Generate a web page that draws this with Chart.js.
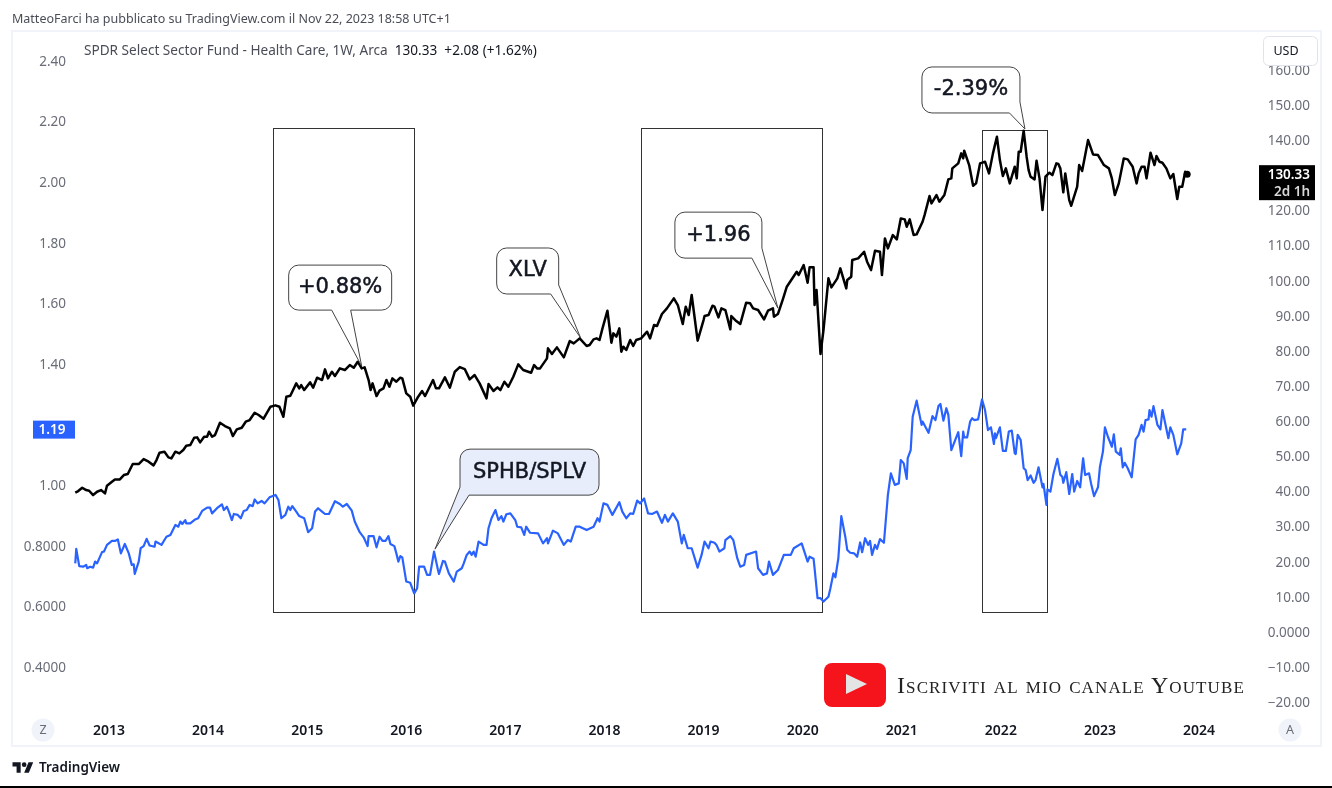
<!DOCTYPE html>
<html>
<head>
<meta charset="utf-8">
<title>XLV vs SPHB/SPLV</title>
<script src="https://cdn.jsdelivr.net/npm/chart.js@4/dist/chart.umd.js"></script>
<style>
  html, body { margin: 0; padding: 0; background: #fff; }
  #page { position: relative; width: 1332px; height: 788px; overflow: hidden; font-family: "Noto Sans", sans-serif; }
  #lineChart { position: absolute; left: 0; top: 0; }
  .txt { position: absolute; white-space: nowrap; }
  #header { left: 12px; top: 10px; font-size: 12.5px; color: #4a4d57; }
  #legend { left: 84px; top: 40px; font-size: 13.6px; color: #4a4d57; }
  #legend b { font-weight: 400; color: #131722; }
  #tvName { left: 39px; top: 758px; font-size: 13.5px; font-weight: 600; color: #131722; }
  #tvLogo { position: absolute; left: 12px; top: 760px; }
  #ytText { left: 897px; top: 672px; font-family: "Liberation Serif", serif; font-size: 24px; font-variant: small-caps; color: #222; letter-spacing: 1.1px; }
  #ytLogo { position: absolute; left: 824px; top: 663px; }
  #bottomLine { position: absolute; left: 0; top: 786px; width: 1332px; height: 2px; background: #000; }
</style>
</head>
<body>
<div id="page">
  <canvas id="lineChart" width="1332" height="788"></canvas>
  <div class="txt" id="header">MatteoFarci ha pubblicato su TradingView.com il Nov 22, 2023 18:58 UTC+1</div>
  <div class="txt" id="legend">SPDR Select Sector Fund - Health Care, 1W, Arca &nbsp;<b>130.33 &nbsp;+2.08 (+1.62%)</b></div>
  <svg id="tvLogo" width="22" height="14" viewBox="0 0 36 24"><path fill="#131722" d="M14 22H7V11H0V4h14v18zM28 22h-8l7.5-18h8L28 22z"/><circle fill="#131722" cx="20" cy="8" r="4"/></svg>
  <div class="txt" id="tvName">TradingView</div>
  <svg id="ytLogo" width="62" height="44" viewBox="0 0 62 44"><rect x="0" y="0" width="62" height="44" rx="8" fill="#f5141c"/><path d="M22 11 L43 21 L22 31 Z" fill="#e4e4e4"/></svg>
  <div class="txt" id="ytText">Iscriviti al mio canale Youtube</div>
  <div id="bottomLine"></div>
</div>
<script>
// XLV weekly close (year as decimal, price on the right axis)
const xlvYears = [2012.66,2012.69,2012.73,2012.77,2012.80,2012.84,2012.88,2012.92,2012.96,2012.98,2013.03,2013.06,2013.11,2013.15,2013.19,2013.24,2013.30,2013.35,2013.40,2013.45,2013.48,2013.51,2013.56,2013.60,2013.63,2013.67,2013.71,2013.75,2013.78,2013.82,2013.86,2013.89,2013.92,2013.96,2013.99,2014.01,2014.04,2014.07,2014.12,2014.17,2014.22,2014.25,2014.29,2014.34,2014.38,2014.42,2014.47,2014.51,2014.56,2014.63,2014.68,2014.72,2014.76,2014.79,2014.83,2014.89,2014.92,2014.94,2014.97,2015.03,2015.06,2015.10,2015.15,2015.18,2015.21,2015.25,2015.28,2015.33,2015.38,2015.43,2015.47,2015.51,2015.55,2015.58,2015.62,2015.64,2015.66,2015.70,2015.73,2015.77,2015.80,2015.83,2015.86,2015.90,2015.94,2015.96,2016.00,2016.04,2016.07,
  2016.12,2016.16,2016.19,2016.27,2016.30,2016.33,2016.39,2016.44,2016.49,2016.54,2016.59,2016.64,2016.69,2016.74,2016.81,2016.83,2016.88,2016.92,2016.95,2016.99,2017.03,2017.08,2017.13,2017.18,2017.26,2017.29,2017.32,2017.35,2017.42,2017.43,2017.47,2017.52,2017.59,2017.65,2017.69,2017.75,2017.82,2017.85,2017.89,2017.92,2017.95,2017.98,2018.03,2018.07,2018.09,2018.12,2018.15,2018.17,2018.19,2018.22,2018.26,2018.29,2018.32,2018.37,2018.43,2018.46,2018.50,2018.53,2018.58,2018.63,2018.70,2018.74,2018.79,2018.82,2018.85,2018.88,2018.94,2019.00,2019.01,2019.05,2019.09,2019.11,2019.15,2019.18,2019.22,2019.27,2019.28,2019.33,2019.37,2019.40,2019.43,2019.47,2019.50,2019.55,2019.61,2019.65,2019.70,2019.71,2019.75,2019.80,2019.84,2019.94,2019.96,2020.01,2020.05,2020.07,2020.11,2020.12,2020.14,2020.18,2020.21,2020.26,2020.29,2020.35,
  2020.38,2020.41,2020.44,2020.45,2020.49,2020.50,2020.56,2020.62,2020.65,2020.69,2020.73,2020.78,2020.80,2020.83,2020.86,2020.91,2020.95,2020.99,2021.03,2021.05,2021.08,2021.12,2021.15,2021.21,2021.23,2021.28,2021.30,2021.35,2021.38,2021.43,2021.47,2021.50,2021.51,2021.57,2021.60,2021.62,2021.63,2021.68,2021.72,2021.75,2021.79,2021.84,2021.88,2021.92,2021.96,2021.99,2022.02,2022.05,2022.09,2022.14,2022.16,2022.18,2022.20,2022.23,2022.26,2022.28,2022.30,2022.34,2022.36,2022.39,2022.42,2022.45,2022.49,2022.52,2022.56,2022.58,2022.60,2022.63,2022.65,2022.69,2022.71,2022.77,2022.79,2022.82,2022.88,2022.93,2022.98,2023.04,2023.09,2023.12,2023.15,2023.19,2023.24,2023.28,2023.33,2023.37,2023.39,2023.42,2023.45,2023.47,2023.51,2023.55,2023.57,2023.60,2023.63,2023.67,2023.71,2023.74,2023.78,2023.80,2023.83,2023.86,2023.88];
const xlvPrices = [39.66,40.13,41.08,40.41,40.22,38.99,39.94,40.41,39.47,41.65,42.79,43.45,43.45,44.69,44.97,47.82,47.82,49.24,48.48,47.44,48.96,51.04,51.33,49.72,49.43,51.33,50.85,51.80,53.04,53.23,55.31,55.41,53.99,55.60,55.60,57.02,55.60,56.07,59.58,58.64,57.97,55.79,57.69,58.16,59.87,60.34,62.43,61.77,60.72,64.14,64.52,64.14,61.29,66.99,67.27,70.78,69.36,70.31,68.89,71.07,69.55,72.40,71.73,74.77,72.21,74.10,72.87,75.05,74.58,76.00,75.24,76.95,75.05,75.34,71.73,68.89,70.78,67.18,68.70,69.36,71.73,69.83,72.21,71.26,72.40,72.21,67.94,66.99,64.43,
  66.99,68.60,67.18,71.73,69.36,69.36,72.49,69.55,74.10,75.43,74.86,71.92,73.16,70.78,66.51,70.59,68.60,69.64,68.88,71.26,69.83,72.68,76.19,74.58,73.82,76.00,75.05,75.05,77.90,80.75,79.13,81.03,78.19,82.83,82.17,83.59,81.41,81.70,83.31,83.59,83.12,86.44,91.47,82.36,85.02,84.07,86.44,79.80,81.22,80.27,83.12,81.41,83.12,83.59,85.49,83.59,87.39,87.11,90.52,92.14,94.98,93.08,87.67,92.61,90.24,95.93,82.93,88.81,89.95,90.24,92.89,92.61,89.57,92.14,91.66,86.16,89.95,88.53,87.67,90.71,93.75,93.56,92.14,91.66,89.00,91.47,92.14,89.76,90.52,94.70,98.30,102.57,101.63,104.47,99.44,103.81,103.81,93.08,97.36,79.13,85.97,100.68,98.11,100.68,
  103.51,100.66,97.81,100.19,101.14,105.88,106.35,108.25,105.41,103.03,108.54,108.25,101.61,112.05,109.20,113.00,111.76,117.74,117.46,115.37,117.46,113.00,113.19,116.79,118.69,124.10,122.01,124.39,122.49,124.39,128.85,129.13,131.98,133.40,136.25,134.82,137.01,132.93,127.04,127.71,133.40,133.88,130.55,136.25,141.00,134.35,129.79,131.98,127.71,132.45,129.13,136.72,136.72,142.70,135.30,131.50,129.60,128.85,134.16,129.13,120.12,129.60,130.74,130.08,133.40,133.21,131.98,125.15,130.55,122.96,121.35,126.76,132.93,131.22,140.04,135.96,135.77,132.93,131.98,129.13,124.39,127.71,134.82,134.54,132.45,127.71,130.55,132.45,132.45,129.13,136.44,132.93,135.49,133.88,133.59,131.98,129.13,130.36,123.25,126.76,126.76,131.03,130.33];

// SPHB/SPLV ratio, left axis
const ratioYears = [2012.66,2012.67,2012.70,2012.74,2012.77,2012.78,2012.81,2012.84,2012.86,2012.88,2012.93,2012.95,2012.98,2013.03,2013.06,2013.09,2013.12,2013.16,2013.20,2013.23,2013.25,2013.26,2013.30,2013.32,2013.35,2013.38,2013.41,2013.46,2013.47,2013.53,2013.58,2013.62,2013.67,2013.70,2013.72,2013.74,2013.77,2013.78,2013.82,2013.87,2013.90,2013.94,2013.99,2014.02,2014.04,2014.09,2014.14,2014.16,2014.19,2014.21,2014.24,2014.26,2014.30,2014.33,2014.36,2014.39,2014.42,2014.45,2014.47,2014.50,2014.54,2014.57,2014.62,2014.68,2014.71,2014.74,2014.78,2014.81,2014.83,2014.85,2014.89,2014.92,2014.97,2015.01,2015.05,2015.08,2015.11,2015.15,2015.18,2015.22,2015.28,2015.33,2015.36,2015.40,2015.45,2015.48,2015.53,2015.57,2015.61,2015.62,2015.67,2015.70,2015.73,2015.76,2015.79,2015.82,2015.84,2015.88,2015.90,2015.92,2015.94,2015.96,2016.00,2016.04,2016.08,2016.11,2016.13,2016.18,2016.21,2016.24,2016.28,2016.32,
  2016.33,2016.37,2016.39,2016.43,2016.48,2016.51,2016.56,2016.58,2016.61,2016.64,2016.66,2016.68,2016.70,2016.73,2016.78,2016.81,2016.83,2016.86,2016.90,2016.93,2016.96,2016.98,2017.01,2017.05,2017.10,2017.12,2017.16,2017.19,2017.21,2017.25,2017.33,2017.38,2017.42,2017.43,2017.48,2017.53,2017.59,2017.63,2017.66,2017.71,2017.75,2017.82,2017.89,2017.93,2017.95,2017.99,2018.03,2018.08,2018.15,2018.18,2018.22,2018.26,2018.29,2018.33,2018.36,2018.40,2018.44,2018.48,2018.53,2018.58,2018.61,2018.64,2018.69,2018.74,2018.78,2018.80,2018.84,2018.88,2018.94,2018.98,2019.01,2019.05,2019.07,2019.11,2019.13,2019.16,2019.21,2019.22,2019.27,2019.30,2019.34,2019.37,2019.41,2019.43,2019.53,2019.55,2019.60,2019.64,2019.66,2019.70,2019.75,2019.81,2019.88,2019.91,2019.99,2020.05,2020.07,2020.11,2020.12,2020.15,2020.18,2020.21,2020.26,2020.28,2020.31,
  2020.33,2020.36,2020.39,2020.43,2020.45,2020.48,2020.52,2020.55,2020.58,2020.60,2020.63,2020.66,2020.68,2020.70,2020.73,2020.75,2020.78,2020.82,2020.86,2020.89,2020.93,2020.97,2020.99,2021.02,2021.05,2021.06,2021.09,2021.11,2021.15,2021.20,2021.21,2021.27,2021.31,2021.34,2021.37,2021.39,2021.42,2021.45,2021.47,2021.50,2021.57,2021.60,2021.62,2021.63,2021.66,2021.69,2021.71,2021.73,2021.77,2021.81,2021.84,2021.87,2021.90,2021.93,2021.94,2021.95,2021.99,2022.02,2022.05,2022.08,2022.11,2022.14,2022.15,2022.17,2022.20,2022.23,2022.25,2022.27,2022.30,2022.33,2022.35,2022.38,2022.42,2022.43,2022.46,2022.47,2022.50,2022.53,2022.57,2022.60,2022.62,2022.63,2022.66,2022.69,2022.72,2022.74,2022.77,2022.80,2022.83,2022.85,2022.89,2022.91,2022.94,2022.98,2023.00,2023.03,2023.05,2023.08,2023.12,2023.14,2023.16,2023.20,2023.21,2023.23,2023.25,2023.28,2023.32,2023.36,2023.39,2023.42,2023.44,2023.46,2023.49,2023.50,2023.52,2023.54,2023.58,2023.61,2023.63,2023.69,2023.71,2023.74,2023.78,2023.82,2023.84,2023.87];
const ratioValues = [.742,.790,.733,.731,.737,.726,.731,.728,.748,.742,.779,.781,.803,.816,.816,.821,.775,.806,.775,.737,.739,.707,.748,.792,.799,.823,.801,.797,.814,.803,.830,.836,.869,.863,.880,.872,.885,.874,.874,.887,.891,.915,.926,.926,.907,.924,.937,.918,.929,.913,.885,.905,.902,.891,.915,.918,.935,.931,.953,.940,.948,.940,.960,.968,.951,.891,.902,.929,.918,.931,.913,.898,.891,.845,.858,.913,.924,.913,.905,.905,.947,.938,.929,.938,.916,.880,.845,.828,.799,.832,.832,.795,.830,.816,.816,.832,.806,.799,.775,.748,.766,.762,.682,.678,.643,.660,.731,.731,.704,.704,.781,.720,
  .707,.750,.748,.709,.682,.715,.726,.742,.770,.781,.770,.781,.764,.814,.803,.803,.858,.891,.918,.885,.898,.880,.904,.907,.885,.863,.861,.836,.863,.843,.841,.808,.825,.808,.850,.841,.803,.819,.814,.863,.863,.852,.863,.891,.880,.940,.935,.902,.944,.913,.891,.907,.905,.949,.940,.956,.907,.905,.913,.876,.902,.880,.907,.880,.808,.836,.792,.792,.728,.770,.814,.792,.814,.810,.803,.781,.792,.819,.832,.819,.759,.731,.737,.770,.781,.726,.704,.709,.748,.704,.720,.770,.770,.792,.808,.748,.764,.757,.726,.627,.627,.616,.632,.660,.709,
  .696,.759,.898,.830,.786,.777,.775,.764,.811,.779,.825,.803,.816,.770,.803,.790,.822,.810,.968,1.039,1.001,1.006,1.083,1.072,1.021,1.089,1.116,1.226,1.279,1.199,1.210,1.173,1.228,1.215,1.261,1.268,1.213,1.254,1.232,1.116,1.175,1.096,1.177,1.158,1.158,1.210,1.221,1.215,1.217,1.283,1.248,1.182,1.191,1.136,1.171,1.155,1.191,1.113,1.113,1.177,1.180,1.105,1.103,1.166,1.149,1.056,1.050,1.017,1.032,1.008,1.017,1.059,.993,1.004,.935,.986,.979,1.036,1.087,1.034,1.028,1.008,1.043,.971,1.037,.979,1.014,.993,1.089,1.034,1.039,1.006,.964,.993,1.061,1.111,1.191,1.160,1.127,1.168,1.111,1.100,1.122,1.059,1.074,1.056,1.026,1.151,1.166,1.199,1.177,1.215,1.217,1.248,1.226,1.261,1.199,1.184,1.248,1.155,1.191,1.166,1.102,1.138,1.184,1.184];

const yearTicks = [2013,2014,2015,2016,2017,2018,2019,2020,2021,2022,2023,2024];
const leftTicks = [2.4,2.2,2.0,1.8,1.6,1.4,1.0,0.8,0.6,0.4];
const rightTicks = [160,150,140,120,110,100,90,80,70,60,50,40,30,20,10,0,-10,-20];
const lastRatio = 1.19;
const lastPrice = 130.33;

// shaded periods: year range and price range of the drawn rectangles
const periodStart = [2014.66,2018.37,2021.81];
const periodEnd = [2016.078,2020.20,2022.465];
const periodTop = [143.47,143.47,142.9];
const periodBottom = [5.69,5.69,5.69];

// callouts: tip sits on the data, the box is offset from it in pixels
const callouts = [
  {text:'+0.88%', year:2015.55, price:75.7, dx:-73, dy:-101, w:103, h:45, fill:'#fff', tail:'bottom', a:-30, b:-11},
  {text:'XLV', year:2017.76, price:83.7, dx:-84, dy:-90, w:62, h:46, fill:'#fff', tail:'br', a:-30, b:-53},
  {text:'+1.96', year:2019.75, price:92.2, dx:-103, dy:-96, w:87, h:46, fill:'#fff', tail:'br', a:-26, b:-60},
  {text:'SPHB/SPLV', year:2016.29, price:23.6, dx:25, dy:-100, w:139, h:46, fill:'#e8edfb', tail:'bl', a:34, b:-62},
  {text:'-2.39%', year:2022.243, price:143.2, dx:-103, dy:-62, w:98, h:46, fill:'#fff', tail:'br', a:-15.5, b:-27}
];

function toPoints(xs, ys) {
  return xs.map((x, i) => ({ x: x, y: ys[i] }));
}

function calloutPath(ctx, c, tx, ty) {
  const x = tx + c.dx, y = ty + c.dy, r = 10;
  const right = x + c.w, bottom = y + c.h;
  ctx.beginPath();
  ctx.moveTo(x + r, y);
  ctx.lineTo(right - r, y);
  ctx.arcTo(right, y, right, y + r, r);
  if (c.tail === 'br') {
    ctx.lineTo(right, ty + c.b);
    ctx.lineTo(tx, ty);
    ctx.lineTo(tx + c.a, bottom);
  } else {
    ctx.lineTo(right, bottom - r);
    ctx.arcTo(right, bottom, right - r, bottom, r);
    if (c.tail === 'bottom') {
      ctx.lineTo(tx + c.b, bottom);
      ctx.lineTo(tx, ty);
      ctx.lineTo(tx + c.a, bottom);
    }
  }
  if (c.tail === 'bl') {
    ctx.lineTo(tx + c.a, bottom);
    ctx.lineTo(tx, ty);
    ctx.lineTo(x, ty + c.b);
  } else {
    ctx.lineTo(x + r, bottom);
    ctx.arcTo(x, bottom, x, bottom - r, r);
  }
  ctx.lineTo(x, y + r);
  ctx.arcTo(x, y, x + r, y, r);
  ctx.closePath();
}

const framePlugin = {
  id: 'frame',
  beforeDraw(chart) {
    const ctx = chart.ctx;
    ctx.save();
    ctx.fillStyle = '#fff';
    ctx.fillRect(0, 0, chart.width, chart.height);
    ctx.strokeStyle = '#f0f3fa';
    ctx.lineWidth = 2;
    ctx.strokeRect(12, 31, 1309, 715);
    ctx.restore();
  },
  beforeDatasetsDraw(chart) {
    const ctx = chart.ctx, x = chart.scales.x, r = chart.scales.yRight;
    ctx.save();
    ctx.strokeStyle = '#333';
    ctx.lineWidth = 1;
    periodStart.forEach((s, i) => {
      const left = Math.round(x.getPixelForValue(s)) + 0.5;
      const right = Math.round(x.getPixelForValue(periodEnd[i])) + 0.5;
      const top = Math.round(r.getPixelForValue(periodTop[i])) + 0.5;
      const bottom = Math.round(r.getPixelForValue(periodBottom[i])) + 0.5;
      ctx.strokeRect(left, top, right - left, bottom - top);
    });
    ctx.restore();
  },
  afterDraw(chart) {
    const ctx = chart.ctx, x = chart.scales.x, r = chart.scales.yRight, l = chart.scales.yLeft;
    ctx.save();

    // callouts
    callouts.forEach(c => {
      const tx = x.getPixelForValue(c.year), ty = r.getPixelForValue(c.price);
      calloutPath(ctx, c, tx, ty);
      ctx.fillStyle = c.fill;
      ctx.fill();
      ctx.strokeStyle = '#444';
      ctx.lineWidth = 1;
      ctx.stroke();
      ctx.fillStyle = '#131722';
      ctx.strokeStyle = '#131722';
      ctx.lineWidth = 0.5;
      ctx.font = '21px "DejaVu Sans"';
      ctx.textAlign = 'center';
      ctx.textBaseline = 'middle';
      ctx.fillText(c.text, tx + c.dx + c.w / 2, ty + c.dy + c.h / 2);
      ctx.strokeText(c.text, tx + c.dx + c.w / 2, ty + c.dy + c.h / 2);
    });

    // last value tags
    const ly = l.getPixelForValue(lastRatio);
    ctx.fillStyle = '#2962ff';
    ctx.fillRect(33, ly - 7, 42, 18);
    ctx.fillStyle = '#fff';
    ctx.font = '600 13.5px "Noto Sans"';
    ctx.textAlign = 'center';
    ctx.textBaseline = 'middle';
    ctx.fillText(lastRatio.toFixed(2), 52, ly + 3);

    const py = r.getPixelForValue(lastPrice);
    ctx.fillStyle = '#000';
    ctx.fillRect(1259, py - 9, 56, 35);
    ctx.fillStyle = '#fff';
    ctx.textAlign = 'right';
    ctx.font = '600 13.5px "Noto Sans"';
    ctx.fillText(lastPrice.toFixed(2), 1310, py + 1);
    ctx.fillStyle = '#d8d8d8';
    ctx.fillText('2d 1h', 1310, py + 18);

    // USD button sits on top of the 160 label
    ctx.fillStyle = '#fff';
    ctx.strokeStyle = '#e0e3eb';
    ctx.lineWidth = 1;
    ctx.beginPath();
    ctx.roundRect(1263.5, 36.5, 54, 29, 5);
    ctx.fill();
    ctx.stroke();
    ctx.fillStyle = '#131722';
    ctx.textAlign = 'center';
    ctx.font = '12.5px "Noto Sans"';
    ctx.fillText('USD', 1286, 51);

    // Z and A buttons
    [[43, 'Z'], [1290, 'A']].forEach(b => {
      ctx.fillStyle = '#f0f3fa';
      ctx.beginPath();
      ctx.arc(b[0], 730, 11.5, 0, Math.PI * 2);
      ctx.fill();
      ctx.fillStyle = '#6a6d78';
      ctx.fillText(b[1], b[0], 730);
    });
    ctx.restore();
  }
};

const axisFont = { family: '"Noto Sans"', size: 13.5 };

new Chart(document.getElementById('lineChart').getContext('2d'), {
  type: 'line',
  data: {
    datasets: [
      {
        label: 'SPHB/SPLV',
        data: toPoints(ratioYears, ratioValues),
        yAxisID: 'yLeft',
        borderColor: '#2962ff',
        borderWidth: 2.2,
        borderJoinStyle: 'round',
        pointRadius: 0,
        tension: 0
      },
      {
        label: 'XLV',
        data: toPoints(xlvYears, xlvPrices),
        yAxisID: 'yRight',
        borderColor: '#000',
        borderWidth: 2.5,
        borderJoinStyle: 'round',
        pointRadius: ctx => ctx.dataIndex === xlvYears.length - 1 ? 3.5 : 0,
        pointBackgroundColor: '#000',
        pointBorderWidth: 0,
        tension: 0
      }
    ]
  },
  options: {
    responsive: false,
    animation: false,
    layout: { padding: { left: 13, right: 22, top: 32, bottom: 42 } },
    plugins: { legend: { display: false }, tooltip: { enabled: false } },
    scales: {
      x: {
        type: 'linear',
        min: 2012.627,
        max: 2024.413,
        grid: { display: false, drawTicks: false },
        border: { display: false },
        afterFit: s => { s.height = 30; },
        afterBuildTicks: s => { s.ticks = yearTicks.map(v => ({ value: v })); },
        ticks: {
          autoSkip: false,
          maxRotation: 0,
          padding: 7,
          color: '#131722',
          font: { family: '"Noto Sans"', size: 14, weight: '600' },
          callback: v => String(v)
        }
      },
      yLeft: {
        position: 'left',
        min: 0.2383,
        max: 2.4957,
        grid: { display: false, drawTicks: false },
        border: { display: false },
        afterFit: s => { s.width = 59; },
        afterBuildTicks: s => { s.ticks = leftTicks.map(v => ({ value: v })); },
        ticks: {
          autoSkip: false,
          padding: 6,
          labelOffset: 1,
          color: '#6a6d78',
          font: axisFont,
          callback: v => v >= 1 ? v.toFixed(2) : v.toFixed(4)
        }
      },
      yRight: {
        position: 'right',
        min: -23.9,
        max: 170.8,
        grid: { display: false, drawTicks: false },
        border: { display: false },
        afterFit: s => { s.width = 70; },
        afterBuildTicks: s => { s.ticks = rightTicks.map(v => ({ value: v })); },
        ticks: {
          autoSkip: false,
          padding: 12,
          labelOffset: 1,
          crossAlign: 'far',
          color: '#6a6d78',
          font: axisFont,
          callback: v => v === 0 ? '0.0000' : (v < 0 ? '\u2212' + (-v).toFixed(2) : v.toFixed(2))
        }
      }
    }
  },
  plugins: [framePlugin]
});
</script>
</body>
</html>
